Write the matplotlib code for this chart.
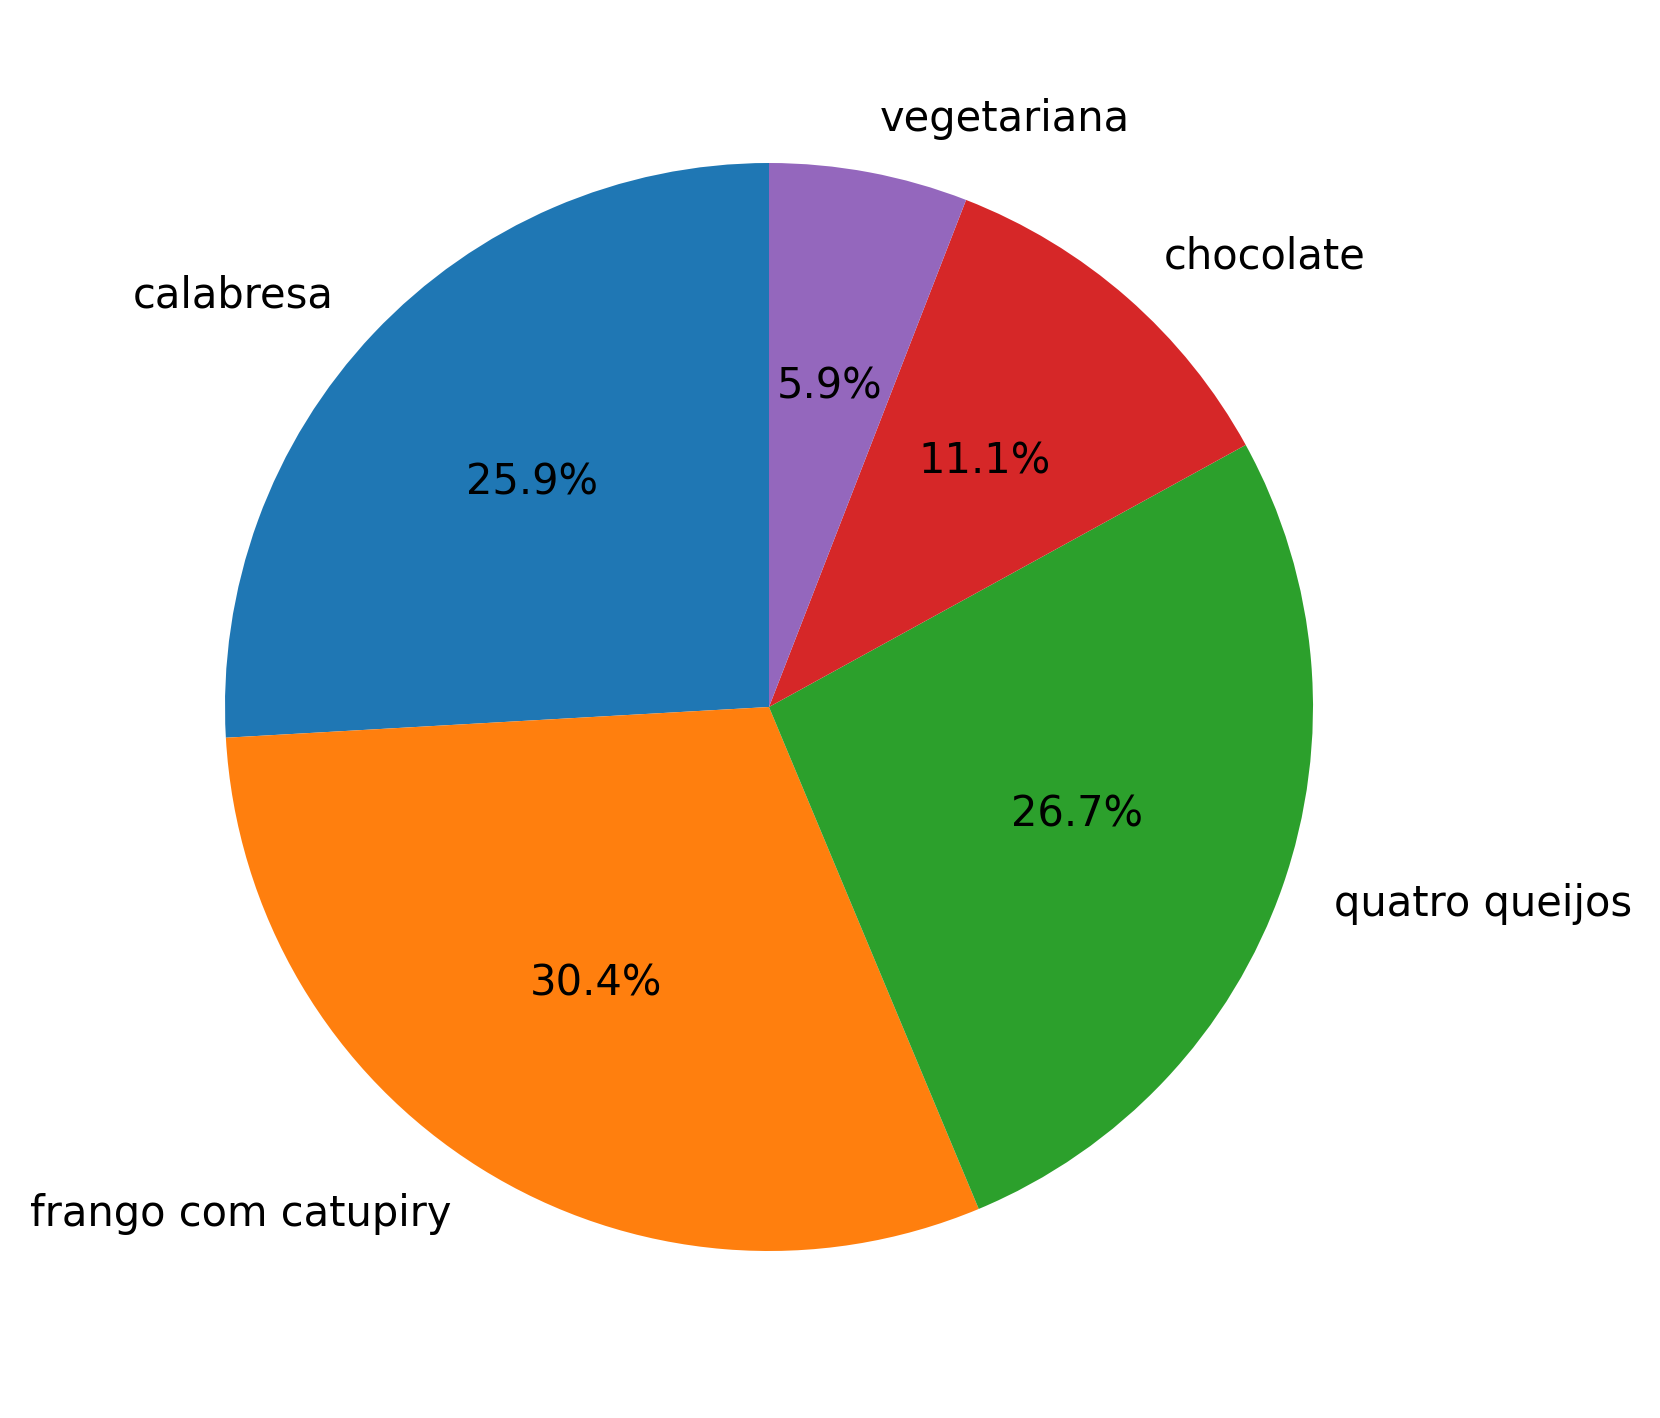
import matplotlib.pyplot as plt

sabores = ["calabresa", "frango com catupiry", "quatro queijos", "chocolate", "vegetariana"]
percentuais = [25.9, 30.4, 26.7, 11.1, 5.9]

fig = plt.figure(figsize=(16.6, 14.18), dpi=100)
ax = fig.add_axes([89 / 1660, 31 / 1418, 1360 / 1660, 1360 / 1418])

ax.pie(
    percentuais,
    labels=sabores,
    autopct="%1.1f%%",
    startangle=90,
    textprops={"fontsize": 30},
)
ax.set_aspect("equal")

fig.savefig("out.png", dpi=100)
